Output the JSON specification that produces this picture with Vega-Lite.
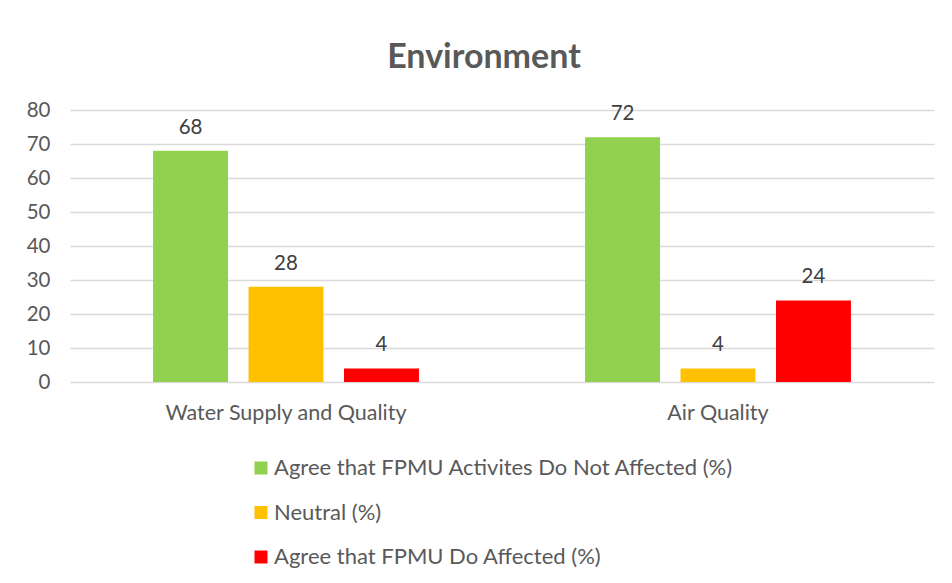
{
  "$schema": "https://vega.github.io/schema/vega-lite/v6.json",
  "width": 864,
  "height": 272,
  "autosize": {"type": "none"},
  "padding": {"left": 70, "top": 110, "right": 18, "bottom": 201},
  "background": "white",
  "title": {"text": "Environment", "fontSize": 34, "fontWeight": "bold", "color": "#595959", "font": "Lato", "offset": 25, "anchor": "middle", "dx": -18},
  "data": {"values": [
    {"cat": "Water Supply and Quality", "series": "Agree that FPMU Activites Do Not Affected (%)", "value": 68},
    {"cat": "Water Supply and Quality", "series": "Neutral (%)", "value": 28},
    {"cat": "Water Supply and Quality", "series": "Agree that FPMU Do Affected (%)", "value": 4},
    {"cat": "Air Quality", "series": "Agree that FPMU Activites Do Not Affected (%)", "value": 72},
    {"cat": "Air Quality", "series": "Neutral (%)", "value": 4},
    {"cat": "Air Quality", "series": "Agree that FPMU Do Affected (%)", "value": 24}
  ]},
  "encoding": {
    "x": {"field": "cat", "type": "nominal", "sort": null, "scale": {"paddingInner": 0, "paddingOuter": 0},
      "axis": {"title": null, "labelAngle": 0, "domain": false, "ticks": false, "labelFontSize": 21.5, "labelColor": "#595959", "labelFont": "Lato", "labelPadding": 20, "labelLimit": 0}},
    "xOffset": {"field": "series", "type": "nominal", "sort": ["Agree that FPMU Activites Do Not Affected (%)", "Neutral (%)", "Agree that FPMU Do Affected (%)"], "scale": {"paddingInner": 0.215, "paddingOuter": 0.87}},
    "y": {"field": "value", "type": "quantitative", "scale": {"domain": [0, 80]},
      "axis": {"title": null, "values": [0,10,20,30,40,50,60,70,80], "labelOverlap": false, "domain": false, "ticks": false, "labelFontSize": 20.5, "labelColor": "#595959", "labelFont": "Lato", "labelPadding": 20, "gridColor": "#d9d9d9", "gridWidth": 1.3}}
  },
  "layer": [
    {"mark": {"type": "bar"},
     "encoding": {"color": {"field": "series", "type": "nominal", "sort": ["Agree that FPMU Activites Do Not Affected (%)", "Neutral (%)", "Agree that FPMU Do Affected (%)"],
       "scale": {"domain": ["Agree that FPMU Activites Do Not Affected (%)", "Neutral (%)", "Agree that FPMU Do Affected (%)"], "range": ["#92d050", "#ffc000", "#ff0000"]},
       "legend": {"title": null, "orient": "none", "legendX": 180, "legendY": 347, "direction": "vertical", "symbolType": "square", "symbolSize": 169, "symbolStrokeWidth": 0, "labelFontSize": 22, "labelColor": "#595959", "labelFont": "Lato", "rowPadding": 22.5, "labelOffset": 2, "labelLimit": 0}}}},
    {"mark": {"type": "text", "baseline": "bottom", "dy": -13, "fontSize": 20.5, "color": "#404040", "font": "Lato"},
     "encoding": {"text": {"field": "value", "type": "quantitative"}}}
  ],
  "config": {"view": {"stroke": null}}
}
